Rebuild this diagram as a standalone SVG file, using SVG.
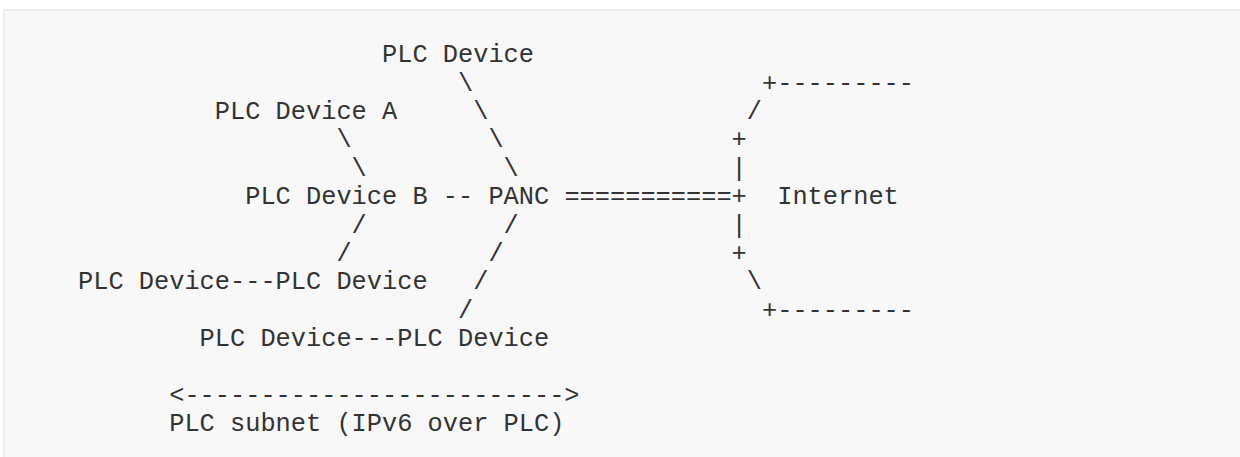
<svg xmlns="http://www.w3.org/2000/svg" width="1240" height="457" viewBox="0 0 1240 457">
<style>
text { font-family: "Liberation Mono", "DejaVu Sans Mono", monospace; font-size: 25.33px; fill: #333333; }
</style>
<rect x="4" y="10" width="1250" height="470" fill="#f8f8f8" stroke="#ececec" stroke-width="2"/>
<g id="connectors">
<text x="458.0" y="90.6">\</text>
<text x="762.0" y="90.6">+---------</text>
<text x="473.2" y="119.0">\</text>
<text x="746.8" y="119.0">/</text>
<text x="336.4" y="147.4">\</text>
<text x="488.4" y="147.4">\</text>
<text x="731.6" y="147.4">+</text>
<text x="351.6" y="175.8">\</text>
<text x="503.6" y="175.8">\</text>
<text x="731.6" y="175.8">|</text>
<text x="442.8" y="204.2">--</text>
<text x="564.4" y="204.2">===========+</text>
<text x="351.6" y="232.6">/</text>
<text x="503.6" y="232.6">/</text>
<text x="731.6" y="232.6">|</text>
<text x="336.4" y="261.0">/</text>
<text x="488.4" y="261.0">/</text>
<text x="731.6" y="261.0">+</text>
<text x="230.0" y="289.4">---</text>
<text x="473.2" y="289.4">/</text>
<text x="746.8" y="289.4">\</text>
<text x="458.0" y="317.8">/</text>
<text x="762.0" y="317.8">+---------</text>
<text x="351.6" y="346.2">---</text>
<text x="169.2" y="402.8">&lt;-------------------------&gt;</text>
</g>
<g id="node-top"><text x="382.0" y="62.2">PLC Device</text></g>
<g id="node-a"><text x="214.8" y="119.0">PLC Device A</text></g>
<g id="node-b"><text x="245.2" y="204.2">PLC Device B</text></g>
<g id="node-panc"><text x="488.4" y="204.2">PANC</text></g>
<g id="node-internet"><text x="777.2" y="204.2">Internet</text></g>
<g id="node-c"><text x="78.0" y="289.4">PLC Device</text></g>
<g id="node-d"><text x="275.6" y="289.4">PLC Device</text></g>
<g id="node-e"><text x="199.6" y="346.2">PLC Device</text></g>
<g id="node-f"><text x="397.2" y="346.2">PLC Device</text></g>
<g id="label-subnet"><text x="169.2" y="431.4">PLC subnet (IPv6 over PLC)</text></g>
</svg>
